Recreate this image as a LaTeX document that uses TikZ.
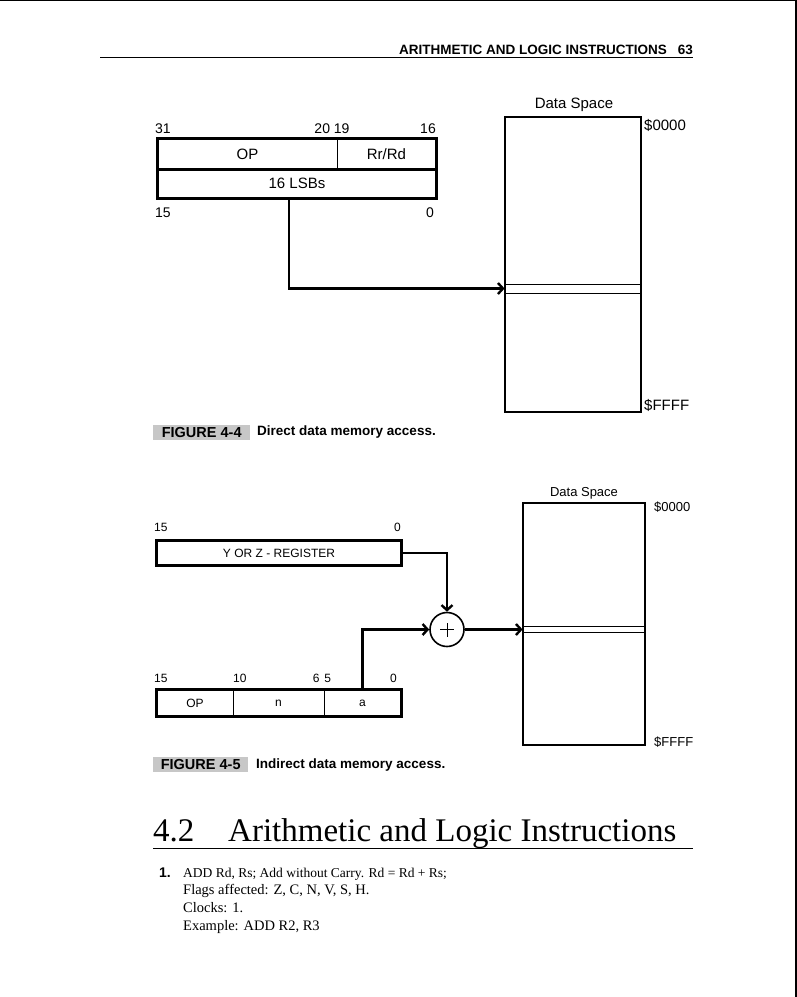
\documentclass[tikz,border=0pt]{standalone}
\usepackage{fontspec}
\setmainfont{Liberation Serif}
\setsansfont{Liberation Sans}
\usetikzlibrary{arrows.meta, positioning}

\begin{document}
\begin{tikzpicture}[x=1pt, y=-1pt,
    field/.style={draw, line width=0.8pt, inner sep=0pt},
    bigtext/.style={font=\sffamily\fontsize{15}{15}\selectfont},
    smalltext/.style={font=\sffamily\fontsize{12}{12}\selectfont},
    memory/.style={draw, line width=2.4pt, inner sep=0pt},
    slotline/.style={draw, line width=0.8pt, inner sep=0pt},
    frame/.style={line width=2.4pt},
    conn/.style={line width=2.4pt, -{Straight Barb[length=5pt, width=11pt]}},
    bitnum/.style={inner sep=0pt},
    capbox/.style={fill=black!22, inner sep=0pt, minimum height=15pt,
        font=\sffamily\bfseries\fontsize{14.5}{14.5}\selectfont},
    captext/.style={inner sep=0pt, font=\sffamily\bfseries\fontsize{13.5}{13.5}\selectfont}]
    \useasboundingbox (0,0) rectangle (797,997);
    % page edges
    \draw[line width=1.2pt] (0,0.6) -- (797,0.6);
    \draw[line width=2pt] (796,0) -- (796,997);

    % running head
    \node[anchor=base east, inner sep=0pt, font=\sffamily\bfseries\fontsize{13.5}{13.5}\selectfont]
        (runhead) at (693,54) {ARITHMETIC AND LOGIC INSTRUCTIONS\hspace{11pt}63};
    \draw[line width=0.8pt] (100,57) -- (693,57);

    % figure 4-4: direct addressing
    \node[field, bigtext, minimum width=179pt, minimum height=30pt] (op) at (247.5,154) {OP};
    \node[field, bigtext, minimum width=99pt, minimum height=30pt] (rr) at (386.5,154) {Rr/Rd};
    \node[field, bigtext, minimum width=278pt, minimum height=29pt] (lsb) at (297,183.5) {16 LSBs};
    \draw[frame] (op.north west) rectangle (lsb.south east);
    \draw[frame] (op.south west) -- (rr.south east);
    \begin{scope}[bigtext, font=\sffamily\fontsize{14}{14}\selectfont]
        \node[bitnum, anchor=base west] (b31) at (155,133) {31};
        \node[bitnum, anchor=base] (b2019) at (332,133) {20 19};
        \node[bitnum, anchor=base east] (b16) at (436,133) {16};
        \node[bitnum, anchor=base west] (b15) at (155,217) {15};
        \node[bitnum, anchor=base east] (b0) at (434,217) {0};
    \end{scope}

    \node[memory, minimum width=136pt, minimum height=295pt] (mem) at (573,264.5) {};
    \node[slotline, minimum width=136pt, minimum height=9pt] (slot) at (573,288.5) {};
    \node[bigtext, anchor=base, inner sep=0pt] (dsa) at (574,108) {Data Space};
    \node[bigtext, anchor=base west, inner sep=0pt] (topa) at (644,130) {\$0000};
    \node[bigtext, anchor=base west, inner sep=0pt] (bota) at (644,410) {\$FFFF};

    \draw[conn] ([xshift=-8pt]lsb.south) |- (slot.west);

    \node[capbox, anchor=west, minimum width=97pt] (cap1) at (153,432.5) {FIGURE 4-4};
    \node[captext, anchor=west] (cap1t) at (257,432.5) {Direct data memory access.};

    % figure 4-5: indirect addressing
    \node[field, smalltext, minimum width=244pt, minimum height=24pt] (yz) at (279,553) {Y OR Z - REGISTER};
    \draw[frame] (yz.north west) rectangle (yz.south east);
    \node[bitnum, smalltext, anchor=base west] (c15) at (154,531) {15};
    \node[bitnum, smalltext, anchor=base east] (c0) at (401,531) {0};

    \node[draw, circle, line width=1.6pt, minimum size=34pt, inner sep=0pt] (sum) at (447,629.5) {};
    \draw[line width=0.7pt] ([xshift=-7pt]sum.center) -- ([xshift=7pt]sum.center)
        ([yshift=-7pt]sum.center) -- ([yshift=7pt]sum.center);

    \node[field, smalltext, minimum width=76pt, minimum height=26pt] (op2) at (195,703) {OP};
    \node[field, smalltext, minimum width=91pt, minimum height=26pt] (nf) at (278.5,703) {n};
    \node[field, smalltext, minimum width=77pt, minimum height=26pt] (af) at (362.5,703) {a};
    \draw[frame] (op2.north west) rectangle (af.south east);
    \begin{scope}[smalltext]
        \node[bitnum, anchor=base west] (d15) at (154,682) {15};
        \node[bitnum, anchor=base west] (d10) at (233,682) {10};
        \node[bitnum, anchor=base] (d65) at (322,682) {6\hspace{5pt}5};
        \node[bitnum, anchor=base east] (d0) at (397,682) {0};
    \end{scope}

    \node[memory, minimum width=122pt, minimum height=242pt] (mem2) at (584,624) {};
    \node[slotline, minimum width=122pt, minimum height=6pt] (slot2) at (584,629.5) {};
    \node[anchor=base, inner sep=0pt, font=\sffamily\fontsize{13}{13}\selectfont] (dsb) at (584,496) {Data Space};
    \node[anchor=base west, inner sep=0pt, font=\sffamily\fontsize{13}{13}\selectfont] (topb) at (654,511) {\$0000};
    \node[anchor=base west, inner sep=0pt, font=\sffamily\fontsize{13}{13}\selectfont] (botb) at (654,746) {\$FFFF};

    \draw[conn] (yz.east) -| (sum.north);
    \draw[conn] (af.north) |- (sum.west);
    \draw[conn] (sum.east) -- (slot2.west);

    \node[capbox, anchor=west, minimum width=95pt] (cap2) at (153,764.5) {FIGURE 4-5};
    \node[captext, anchor=west] (cap2t) at (256,764.5) {Indirect data memory access.};

    % section heading
    \node[anchor=base west, inner sep=0pt, font=\fontsize{33}{33}\selectfont] (secno) at (153,841) {4.2};
    \node[anchor=base west, inner sep=0pt, font=\fontsize{33}{33}\selectfont] (sectitle) at (228,841) {Arithmetic and Logic Instructions};
    \draw[line width=0.8pt] (153,848) -- (693,848);

    % first instruction
    \node[anchor=base west, inner sep=0pt, font=\sffamily\bfseries\fontsize{14}{14}\selectfont] (num1) at (159,877) {1.};
    \node[anchor=base west, inner sep=0pt, font=\fontsize{13.5}{13.5}\selectfont] (line1) at (183,877) {ADD Rd, Rs; Add without Carry. Rd = Rd + Rs;};
    \node[anchor=base west, inner sep=0pt, font=\fontsize{14.5}{14.5}\selectfont] (line2) at (183,894) {Flags affected: Z, C, N, V, S, H.};
    \node[anchor=base west, inner sep=0pt, font=\fontsize{14.5}{14.5}\selectfont] (line3) at (183,912) {Clocks: 1.};
    \node[anchor=base west, inner sep=0pt, font=\fontsize{14.5}{14.5}\selectfont] (line4) at (183,930) {Example: ADD R2, R3};
\end{tikzpicture}
\end{document}
